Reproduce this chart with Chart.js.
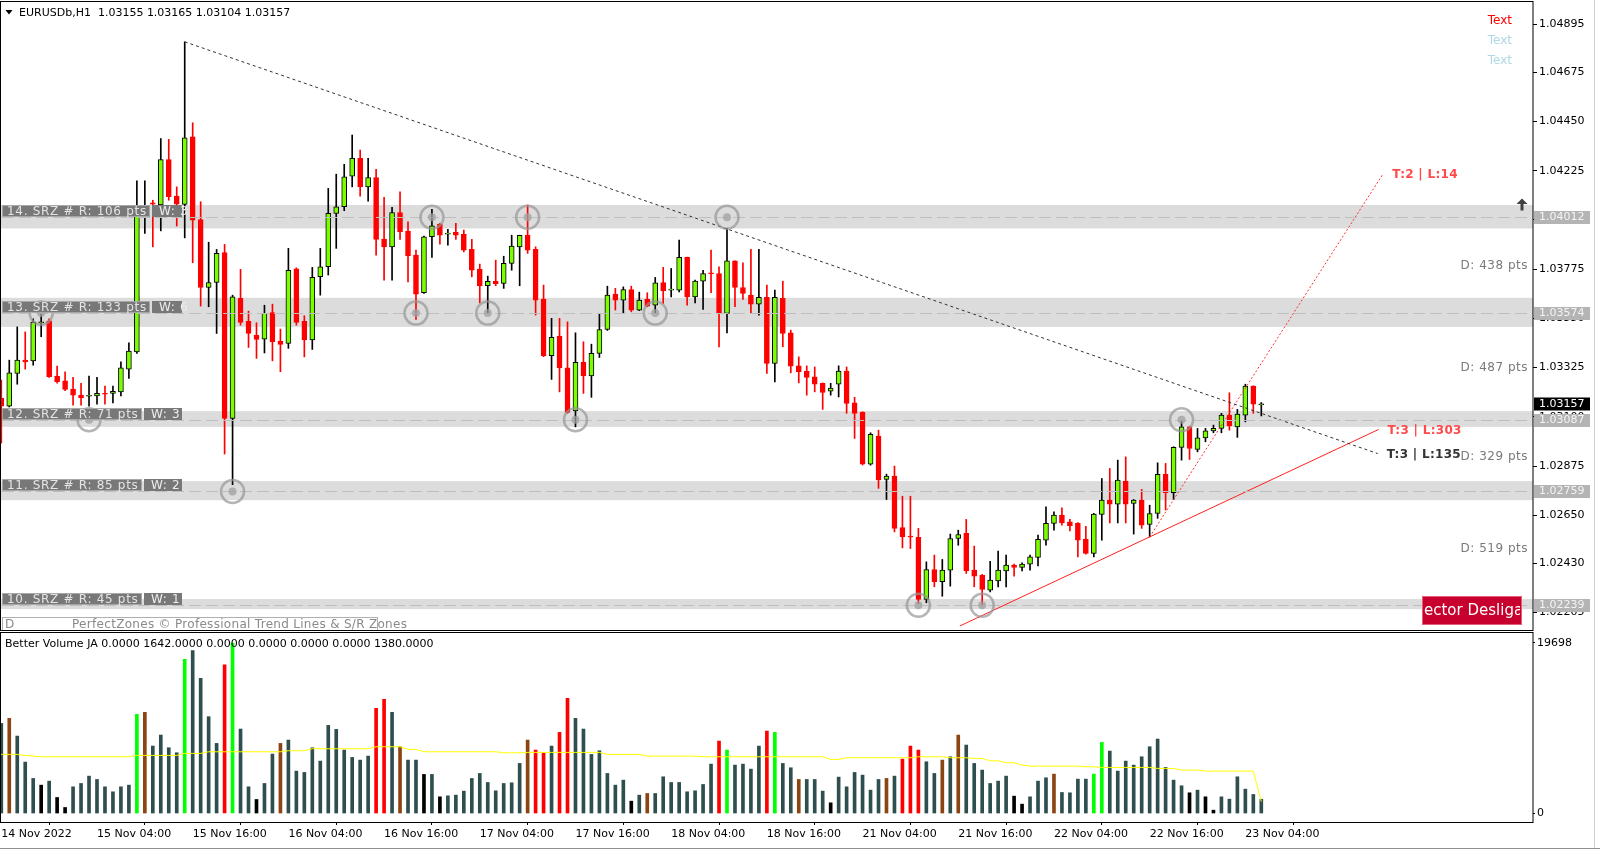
<!DOCTYPE html>
<html><head><meta charset="utf-8">
<script src="https://cdn.jsdelivr.net/npm/chart.js@4.4.0/dist/chart.umd.min.js"></script>
<style>
html,body{margin:0;padding:0;background:#fff;overflow:hidden;width:1600px;height:851px;}
#c1{position:absolute;left:0;top:0;}
#c2{position:absolute;left:0;top:632px;}
</style></head><body>
<canvas id="c1" width="1600" height="632"></canvas>
<canvas id="c2" width="1600" height="219"></canvas>
<script>
const FONT = '"DejaVu Sans", Verdana, sans-serif';

// ---------- data ----------
const opens = [
1.03185,1.03149,1.03298,1.03359,1.03356,1.03530,1.03539,1.03286,1.03264,1.03227,
1.03199,1.03194,1.03196,1.03205,1.03207,1.03214,1.03318,1.03397,1.04028,1.04078,
1.04068,1.04276,1.04109,1.04071,1.04380,1.04002,1.03691,1.03714,1.03851,1.03093,
1.03641,1.03537,1.03473,1.03455,1.03577,1.03446,1.03435,1.03776,1.03537,1.03451,
1.03740,1.03786,1.04030,1.04060,1.04200,1.04281,1.04151,1.04194,1.03912,1.03877,
1.04034,1.03949,1.03839,1.03667,1.03923,1.03981,1.03935,1.03943,1.03934,1.03865,
1.03775,1.03699,1.03719,1.03710,1.03801,1.03877,1.03930,1.03866,1.03638,1.03379,
1.03469,1.03324,1.03127,1.03349,1.03287,1.03390,1.03499,1.03661,1.03633,1.03682,
1.03588,1.03637,1.03610,1.03714,1.03679,1.03679,1.03829,1.03648,1.03720,1.03756,
1.03755,1.03573,1.03813,1.03691,1.03656,1.03615,1.03646,1.03344,1.03641,1.03484,
1.03333,1.03309,1.03283,1.03253,1.03217,1.03249,1.03309,1.03164,1.03120,1.02884,
1.03012,1.02814,1.02829,1.02594,1.02552,1.02549,1.02265,1.02402,1.02346,1.02399,
1.02544,1.02567,1.02399,1.02376,1.02308,1.02350,1.02396,1.02422,1.02412,1.02427,
1.02457,1.02536,1.02613,1.02651,1.02620,1.02613,1.02541,1.02476,1.02654,1.02719,
1.02701,1.02806,1.02704,1.02719,1.02608,1.02658,1.02837,1.02753,1.02960,1.03054,
1.02951,1.03004,1.03036,1.03047,1.03108,1.03054,1.03108,1.03240,1.03155];
const highs = [
1.03268,1.03359,1.03511,1.03488,1.03548,1.03574,1.03548,1.03332,1.03306,1.03280,
1.03253,1.03286,1.03280,1.03240,1.03240,1.03351,1.03438,1.04179,1.04179,1.04090,
1.04372,1.04368,1.04151,1.04814,1.04444,1.04083,1.03898,1.03865,1.03888,1.03656,
1.03774,1.03583,1.03530,1.03610,1.03615,1.03501,1.03870,1.03781,1.03562,1.03783,
1.03870,1.04144,1.04209,1.04254,1.04388,1.04319,1.04281,1.04231,1.04103,1.04057,
1.04128,1.03991,1.03862,1.03926,1.04048,1.03984,1.03957,1.03984,1.03953,1.03911,
1.03798,1.03743,1.03816,1.03834,1.03930,1.03930,1.04068,1.03877,1.03702,1.03550,
1.03550,1.03534,1.03484,1.03443,1.03432,1.03569,1.03697,1.03687,1.03694,1.03697,
1.03670,1.03667,1.03737,1.03783,1.03778,1.03908,1.03830,1.03725,1.03770,1.03862,
1.03786,1.03961,1.03813,1.03804,1.03865,1.03865,1.03702,1.03679,1.03720,1.03496,
1.03374,1.03333,1.03328,1.03255,1.03253,1.03333,1.03328,1.03189,1.03123,1.03027,
1.03039,1.02838,1.02875,1.02737,1.02737,1.02590,1.02437,1.02468,1.02448,1.02564,
1.02582,1.02631,1.02509,1.02380,1.02440,1.02486,1.02468,1.02427,1.02433,1.02468,
1.02559,1.02689,1.02666,1.02684,1.02631,1.02617,1.02600,1.02659,1.02818,1.02864,
1.02902,1.02917,1.02722,1.02768,1.02696,1.02890,1.02887,1.02963,1.03080,1.03057,
1.03047,1.03047,1.03062,1.03116,1.03210,1.03134,1.03249,1.03242,1.03165];
const lows = [
1.02980,1.03145,1.03249,1.03318,1.03336,1.03466,1.03280,1.03254,1.03219,1.03153,
1.03153,1.03149,1.03158,1.03158,1.03164,1.03195,1.03275,1.03390,1.03938,1.03877,
1.03950,1.04090,1.03972,1.03918,1.03804,1.03606,1.03603,1.03481,1.02930,1.02790,
1.03519,1.03417,1.03367,1.03392,1.03356,1.03306,1.03413,1.03519,1.03374,1.03408,
1.03656,1.03748,1.03870,1.04042,1.04151,1.04109,1.04086,1.03839,1.03725,1.03725,
1.03911,1.03717,1.03545,1.03664,1.03829,1.03889,1.03885,1.03911,1.03854,1.03740,
1.03621,1.03575,1.03699,1.03687,1.03770,1.03699,1.03847,1.03565,1.03375,1.03271,
1.03214,1.03116,1.03054,1.03207,1.03189,1.03371,1.03495,1.03588,1.03575,1.03580,
1.03585,1.03603,1.03575,1.03618,1.03648,1.03671,1.03610,1.03621,1.03591,1.03667,
1.03420,1.03484,1.03603,1.03637,1.03573,1.03565,1.03298,1.03260,1.03420,1.03301,
1.03255,1.03199,1.03214,1.03134,1.03199,1.03191,1.03116,1.03001,1.02880,1.02879,
1.02773,1.02722,1.02574,1.02501,1.02498,1.02245,1.02250,1.02323,1.02280,1.02326,
1.02513,1.02384,1.02323,1.02235,1.02300,1.02323,1.02323,1.02372,1.02396,1.02399,
1.02418,1.02513,1.02582,1.02605,1.02579,1.02460,1.02472,1.02460,1.02536,1.02615,
1.02615,1.02615,1.02564,1.02590,1.02551,1.02636,1.02674,1.02722,1.02902,1.02905,
1.02940,1.02986,1.03027,1.03027,1.03039,1.03006,1.03077,1.03116,1.03104];
const closes = [
1.03149,1.03301,1.03359,1.03351,1.03533,1.03531,1.03283,1.03260,1.03225,1.03199,
1.03187,1.03195,1.03207,1.03203,1.03217,1.03324,1.03400,1.04022,1.04031,1.04072,
1.04276,1.04106,1.04072,1.04375,1.03999,1.03691,1.03714,1.03847,1.03093,1.03648,
1.03531,1.03481,1.03454,1.03573,1.03443,1.03431,1.03770,1.03531,1.03451,1.03737,
1.03786,1.04030,1.04060,1.04197,1.04281,1.04151,1.04194,1.03911,1.03877,1.04034,
1.03946,1.03836,1.03661,1.03923,1.03973,1.03930,1.03936,1.03930,1.03862,1.03770,
1.03699,1.03719,1.03708,1.03801,1.03880,1.03930,1.03862,1.03633,1.03379,1.03463,
1.03324,1.03120,1.03349,1.03287,1.03390,1.03499,1.03656,1.03633,1.03682,1.03588,
1.03633,1.03606,1.03712,1.03676,1.03680,1.03829,1.03648,1.03720,1.03755,1.03754,
1.03573,1.03813,1.03691,1.03664,1.03615,1.03646,1.03344,1.03646,1.03481,1.03332,
1.03306,1.03280,1.03249,1.03211,1.03231,1.03309,1.03161,1.03116,1.02884,1.03020,
1.02811,1.02829,1.02590,1.02551,1.02550,1.02265,1.02402,1.02346,1.02399,1.02544,
1.02562,1.02396,1.02372,1.02311,1.02354,1.02399,1.02422,1.02412,1.02427,1.02460,
1.02540,1.02613,1.02651,1.02615,1.02602,1.02536,1.02476,1.02655,1.02719,1.02701,
1.02811,1.02701,1.02719,1.02605,1.02658,1.02837,1.02753,1.02960,1.03054,1.02955,
1.03004,1.03036,1.03047,1.03108,1.03058,1.03112,1.03240,1.03158,1.03157];

const volumes = [
10395,10972,8932,5929,4042,3272,3734,1848,693,3080,
3465,4312,3927,3080,2502,3080,3272,11434,11665,7777,
9047,7584,7007,17787,18788,15592,11165,8085,17132,19650,
9740,3080,1617,3465,6853,8085,8470,4890,4736,7584,
6045,10164,9702,7315,6468,6160,6622,12128,13167,11666,
7700,6160,6160,4505,4505,1925,2040,2118,2580,4042,
4620,3580,2618,3465,3542,5775,8470,7315,7007,7777,
9355,13282,10972,9740,6814,7238,4620,3272,3850,1424,
2118,2310,2310,4235,3580,3580,2502,2618,3350,5698,
8355,7315,5583,5698,5120,7777,9510,9355,5775,5275,
3927,3927,3927,2580,1232,4197,3080,4736,4428,2695,
3927,4043,4312,6276,7777,7315,5968,4620,6160,6545,
9048,7893,5775,5005,3465,3735,4312,2002,1078,1925,
3735,4120,4543,2426,2387,3966,3966,4543,8200,7200,
4890,6045,5583,6545,7700,8586,5313,3850,3196,2387,
2695,1925,385,1925,1656,4235,2811,2195,1642];
// d = normal, g = green, r = red, b = brown, k = black
const volumeKinds = [
'd','b','d','d','d','k','d','k','k','d',
'd','d','d','d','d','d','d','g','b','d',
'd','d','d','g','d','d','d','d','r','g',
'd','d','k','d','d','b','d','d','d','d',
'd','d','d','d','d','d','d','r','r','d',
'b','d','d','k','d','k','d','d','d','d',
'd','d','d','d','d','d','b','r','r','d',
'r','r','d','d','d','d','d','d','d','k',
'd','b','d','d','d','d','d','d','d','d',
'r','g','d','d','d','d','r','g','d','d',
'b','d','d','d','k','d','d','d','d','d',
'd','b','d','r','r','r','d','d','b','d',
'b','d','d','d','d','d','d','k','k','d',
'd','d','b','d','d','d','d','g','g','d',
'd','d','d','d','d','d','d','d','d','k',
'd','k','k','d','d','d','d','d','d'];
const volumeMA = [
6815,6815,6815,6700,6620,6545,6545,6545,6545,6545,
6545,6545,6545,6545,6545,6545,6545,6700,6700,6700,
6700,6700,6700,6930,6930,6930,7120,7120,7120,7120,
7120,7120,7120,7120,7120,7120,7240,7240,7240,7470,
7470,7470,7470,7470,7470,7470,7470,7700,7700,7700,
7700,7390,7390,7120,7120,7120,7120,7120,7120,7120,
7120,7120,7120,7000,7000,7000,7045,7045,7045,7045,
7045,7045,7045,7045,7045,7045,6815,6815,6815,6815,
6815,6620,6620,6620,6620,6620,6620,6620,6545,6545,
6545,6545,6545,6545,6545,6545,6545,6545,6545,6545,
6545,6545,6545,6545,6237,6237,6430,6430,6430,6430,
6430,6430,6430,6430,6430,6545,6545,6545,6545,6430,
6430,6430,6352,6352,6083,6083,5852,5852,5583,5467,
5467,5467,5467,5467,5467,5467,5390,5390,5313,5313,
5313,5313,5313,5313,5313,5198,5198,5198,5005,5005,
5005,4890,4890,4890,4890,4890,4890,4890,1380];

const xTickIndex = [0,12,24,36,48,60,72,84,96,108,120,132,144,156];
const xTickLabels = ['14 Nov 2022','15 Nov 04:00','15 Nov 16:00','16 Nov 04:00','16 Nov 16:00',
  '17 Nov 04:00','17 Nov 16:00','18 Nov 04:00','18 Nov 16:00','21 Nov 04:00',
  '21 Nov 16:00','22 Nov 04:00','22 Nov 16:00','23 Nov 04:00'];
const priceTicks = [1.04895,1.04675,1.04450,1.04225,1.04000,1.03775,1.03550,1.03325,1.03100,1.02875,1.02650,1.02430,1.02205];
const volumeTicks = [0, 19698];
const volumeTickLabels = ['0', '19698'];

const srzLevels = [1.04012, 1.03574, 1.03087, 1.02759, 1.02239];
const srzBandTop = [1.04068, 1.03644, 1.03126, 1.02806, 1.02267];
const srzBandBottom = [1.03961, 1.03511, 1.03054, 1.02719, 1.02221];
const srzNames = ['14. SRZ # R: 106 pts','13. SRZ # R: 133 pts','12. SRZ # R: 71 pts','11. SRZ # R: 85 pts','10. SRZ # R: 45 pts'];
const srzWeights = ['W: 3','W: 6','W: 3','W: 2','W: 1'];
const distanceLabels = ['D: 438 pts','D: 487 pts','D: 329 pts','D: 519 pts'];
const touchBars = [5,11,29,52,54,61,66,72,82,91,115,123,148];
const touchZone = [1,2,3,1,0,1,0,2,1,0,4,4,2];
const downTrend = [{x:23,y:1.04814},{x:172.6,y:1.02932}];
const upTrend = [{x:120.2,y:1.02144},{x:172.7,y:1.03042}];
const fastTrend = [{x:144,y:1.02551},{x:173.3,y:1.04212}];
const trendLabels = ['T:3 | L:135','T:3 | L:303','T:2 | L:14'];
const currentPrice = 1.03157;
const headerText = 'EURUSDb,H1  1.03155 1.03165 1.03104 1.03157';
const volumeHeader = 'Better Volume JA 0.0000 1642.0000 0.0000 0.0000 0.0000 0.0000 1380.0000';

// ---------- scale ranges ----------
const X_MIN = -0.163, X_MAX = 192.07;
const P_MIN = 1.021256, P_MAX = 1.04996;
const V_MIN = -980, V_MAX = 20817;

const BULL = '#7CFC00', BEAR = '#FF0000';
const KIND_COLOR = {d:'#2F4F4F', g:'#00FF00', r:'#FF0000', b:'#8B4513', k:'#000000'};

const bodyData = opens.map((o,i)=>({x:i, y:[o, closes[i]]}));
const wickData = opens.map((o,i)=>({x:i, y:[lows[i], highs[i]]}));
const bodyFill = opens.map((o,i)=> closes[i] > o ? BULL : (closes[i] < o ? BEAR : '#000'));
const bodyEdge = opens.map((o,i)=> closes[i] >= o ? '#000' : BEAR);
const wickColor = opens.map((o,i)=> closes[i] >= o ? '#000' : BEAR);

function txt(ctx, s, x, y, color, font, align, spacing){
  ctx.font = font; ctx.fillStyle = color; ctx.textAlign = align || 'left'; ctx.textBaseline = 'middle';
  ctx.letterSpacing = spacing || '0px';
  ctx.fillText(s, x, y);
  ctx.letterSpacing = '0px';
}

const overlay = {
  id: 'overlay',
  beforeDatasetsDraw(chart){
    const {ctx, chartArea:a, scales:{y}} = chart;
    ctx.save();
    ctx.fillStyle = '#DCDCDC';
    srzLevels.forEach((lv,k)=>{
      const t = y.getPixelForValue(srzBandTop[k]), b = y.getPixelForValue(srzBandBottom[k]);
      ctx.fillRect(a.left, t, a.right - a.left, b - t);
    });
    ctx.restore();
  },
  afterDatasetsDraw(chart){
    const {ctx, chartArea:a, scales:{x,y}} = chart;
    ctx.save();
    // dashed zone lines
    ctx.strokeStyle = '#BEBEBE'; ctx.lineWidth = 1; ctx.setLineDash([12,5]);
    srzLevels.forEach(lv=>{
      const yy = Math.round(y.getPixelForValue(lv)) + 0.5;
      ctx.beginPath(); ctx.moveTo(a.left + 2, yy); ctx.lineTo(a.right - 6, yy); ctx.stroke();
    });
    ctx.setLineDash([]);
    // touch circles
    touchBars.forEach((bi,k)=>{
      const cx = x.getPixelForValue(bi), cy = y.getPixelForValue(srzLevels[touchZone[k]]);
      ctx.beginPath(); ctx.arc(cx, cy, 11.5, 0, Math.PI*2);
      ctx.strokeStyle = 'rgba(150,150,150,0.7)'; ctx.lineWidth = 2.5; ctx.stroke();
      ctx.beginPath(); ctx.arc(cx, cy, 4, 0, Math.PI*2);
      ctx.fillStyle = 'rgba(160,160,160,0.75)'; ctx.fill();
    });
    // zone labels
    srzLevels.forEach((lv,k)=>{
      const yy = Math.round(y.getPixelForValue(lv));
      ctx.font = '12px ' + FONT; ctx.letterSpacing = '0.7px';
      const w = ctx.measureText(srzNames[k]).width;
      ctx.letterSpacing = '0px';
      const e1 = Math.round(2 + 5 + w + 3);
      ctx.fillStyle = '#787878';
      ctx.fillRect(2, yy - 12, e1 - 2, 12);
      ctx.fillRect(e1 + 2, yy - 12, 182 - e1 - 2, 12);
      ctx.strokeStyle = '#A8A8A8'; ctx.lineWidth = 1;
      ctx.strokeRect(2.5, yy - 11.5, e1 - 3, 11);
      txt(ctx, srzNames[k], 7, yy - 5.5, '#E4E4E4', '12px ' + FONT, 'left', '0.7px');
      txt(ctx, srzWeights[k], e1 + 9, yy - 5.5, '#EDEDED', '12px ' + FONT, 'left', '0.7px');
    });
    // distance labels
    for (let k = 0; k < distanceLabels.length; k++) {
      const ym = (y.getPixelForValue(srzLevels[k]) + y.getPixelForValue(srzLevels[k+1])) / 2;
      txt(ctx, distanceLabels[k], 1528, ym + 1, '#7A7A7A', '12px ' + FONT, 'right', '0.5px');
    }
    // trend labels
    const ends = [downTrend[1], upTrend[1], fastTrend[1]];
    const tcol = ['#333333', '#FF4A4A', '#FF4A4A'];
    ends.forEach((p,k)=>{
      const ex = x.getPixelForValue(p.x), ey = y.getPixelForValue(p.y);
      txt(ctx, trendLabels[k], ex + 9, ey + 1, tcol[k], 'bold 12px ' + FONT, 'left', '0.3px');
    });
    // "Text" labels
    txt(ctx, 'Text', 1512, 20.5, '#FF0000', '12px ' + FONT, 'right');
    txt(ctx, 'Text', 1512, 40.5, '#ADD8E6', '12px ' + FONT, 'right');
    txt(ctx, 'Text', 1512, 60.5, '#ADD8E6', '12px ' + FONT, 'right');
    // arrow
    ctx.fillStyle = '#404040';
    ctx.beginPath(); ctx.moveTo(1516.5, 204); ctx.lineTo(1522, 198.5); ctx.lineTo(1527.5, 204); ctx.closePath(); ctx.fill();
    ctx.fillRect(1520.5, 202, 3, 8.5);
    // red status box
    ctx.fillStyle = '#C8002D'; ctx.fillRect(1422, 596, 100, 29);
    ctx.strokeStyle = '#E4607A'; ctx.lineWidth = 1; ctx.strokeRect(1422.5, 596.5, 99, 28);
    ctx.save(); ctx.beginPath(); ctx.rect(1423, 597, 97, 27); ctx.clip();
    txt(ctx, 'ector Desligado', 1424, 611, '#FFFFFF', '15px ' + FONT, 'left');
    ctx.restore();
    // footer credit
    ctx.strokeStyle = '#B0B0B0'; ctx.strokeRect(2.5, 617.5, 375, 13);
    txt(ctx, 'D', 5, 625, '#8A8A8A', '12px ' + FONT, 'left');
    txt(ctx, 'PerfectZones \u00A9 Professional Trend Lines & S/R Zones', 72, 625, '#8A8A8A', '12px ' + FONT, 'left', '0.3px');
    // header
    ctx.fillStyle = '#000';
    ctx.beginPath(); ctx.moveTo(5.5, 10); ctx.lineTo(12.5, 10); ctx.lineTo(9, 14.5); ctx.closePath(); ctx.fill();
    txt(ctx, headerText, 19, 13, '#000', '11px ' + FONT, 'left');
    // price boxes on the axis
    srzLevels.forEach(lv=>{
      const yy = Math.round(y.getPixelForValue(lv));
      ctx.fillStyle = '#B4B4B4'; ctx.fillRect(1534, yy - 6, 56, 13);
      txt(ctx, lv.toFixed(5), 1539, yy + 0.5, '#F4F4F4', '11px ' + FONT, 'left');
    });
    const cy = Math.round(y.getPixelForValue(currentPrice));
    ctx.fillStyle = '#000'; ctx.fillRect(1534, cy - 6.5, 56, 13);
    txt(ctx, currentPrice.toFixed(5), 1539, cy, '#FFFFFF', '11px ' + FONT, 'left');
    // frames
    ctx.strokeStyle = '#000'; ctx.lineWidth = 1;
    ctx.strokeRect(0.5, 1.5, a.right - 0.5, 629);
    ctx.strokeStyle = '#D0D0D0';
    ctx.beginPath(); ctx.moveTo(1594.5, 0); ctx.lineTo(1594.5, 632); ctx.stroke();
    ctx.restore();
  }
};

new Chart(document.getElementById('c1'), {
  type: 'bar',
  data: { datasets: [
    {type:'line', data: downTrend, borderColor:'#333333', borderWidth:1, borderDash:[3,3], pointRadius:0, order:0},
    {type:'line', data: upTrend, borderColor:'#FF2020', borderWidth:1, pointRadius:0, order:0},
    {type:'line', data: fastTrend, borderColor:'#FF3030', borderWidth:1, borderDash:[2,2], pointRadius:0, order:0},
    {type:'bar', data: bodyData, backgroundColor: bodyFill, borderColor: bodyEdge, borderWidth:1, borderSkipped:false,
      barThickness:5, grouped:false, minBarLength:1, order:1},
    {type:'bar', data: wickData, backgroundColor: wickColor, borderWidth:0, barThickness:1, grouped:false, order:2}
  ]},
  options: {
    responsive:false, animation:false, devicePixelRatio:1, events:[],
    layout:{padding:{top:2, bottom:2, left:0, right:0}},
    plugins:{legend:{display:false}, tooltip:{enabled:false}},
    scales:{
      x:{type:'linear', display:false, min:X_MIN, max:X_MAX, offset:false},
      y:{type:'linear', position:'right', min:P_MIN, max:P_MAX,
        afterBuildTicks: s => { s.ticks = priceTicks.map(v=>({value:v})); },
        afterFit: s => { s.width = 67; s.paddingTop = 0; s.paddingBottom = 0; },
        grid:{display:true, drawOnChartArea:false, drawTicks:true, tickLength:4, color:'#000'},
        border:{display:false},
        ticks:{padding:2, color:'#000', autoSkip:false, font:{family:FONT, size:11}, callback: v => Number(v).toFixed(5)}
      }
    }
  },
  plugins:[overlay]
});

const volOverlay = {
  id:'volOverlay',
  afterDatasetsDraw(chart){
    const {ctx, chartArea:a} = chart;
    ctx.save();
    txt(ctx, volumeHeader, 5, 12, '#000', '11px ' + FONT, 'left');
    ctx.strokeStyle = '#000'; ctx.lineWidth = 1;
    ctx.strokeRect(0.5, 0.5, a.right - 0.5, a.bottom);
    ctx.strokeStyle = '#909090';
    ctx.beginPath(); ctx.moveTo(0, 216.5); ctx.lineTo(1600, 216.5); ctx.stroke();
    ctx.strokeStyle = '#D0D0D0';
    ctx.beginPath(); ctx.moveTo(1594.5, 0); ctx.lineTo(1594.5, 216); ctx.stroke();
    ctx.restore();
  }
};

new Chart(document.getElementById('c2'), {
  type:'bar',
  data:{ datasets:[
    {type:'line', data: volumeMA.map((v,i)=>({x:i, y:v})), borderColor:'#FFFF00', borderWidth:1, pointRadius:0, order:0},
    {type:'bar', data: volumes.map((v,i)=>({x:i, y:v})), backgroundColor: volumeKinds.map(k=>KIND_COLOR[k]),
      barThickness:3, grouped:false, order:1}
  ]},
  options:{
    responsive:false, animation:false, devicePixelRatio:1, events:[],
    layout:{padding:{top:1, bottom:0, left:0, right:0}},
    plugins:{legend:{display:false}, tooltip:{enabled:false}},
    scales:{
      x:{type:'linear', position:'bottom', min:X_MIN, max:X_MAX, offset:false,
        afterBuildTicks: s => { s.ticks = xTickIndex.map(v=>({value:v})); },
        afterFit: s => { s.height = 29; s.paddingLeft = 0; s.paddingRight = 0; },
        grid:{display:true, drawOnChartArea:false, drawTicks:true, tickLength:3, color:'#000'},
        border:{display:false},
        ticks:{align:'start', padding:3, autoSkip:false, maxRotation:0, minRotation:0, color:'#000',
          font:{family:FONT, size:11}, callback: v => xTickLabels[xTickIndex.indexOf(Math.round(v))]}
      },
      y:{type:'linear', position:'right', min:V_MIN, max:V_MAX,
        afterBuildTicks: s => { s.ticks = volumeTicks.map(v=>({value:v})); },
        afterFit: s => { s.width = 67; s.paddingTop = 0; s.paddingBottom = 0; },
        grid:{display:true, drawOnChartArea:false, drawTicks:true, tickLength:2, color:'#000'},
        border:{display:false},
        ticks:{padding:2, color:'#000', autoSkip:false, font:{family:FONT, size:11},
          callback: v => volumeTickLabels[volumeTicks.indexOf(Math.round(v))]}
      }
    }
  },
  plugins:[volOverlay]
});
</script>
</body></html>
